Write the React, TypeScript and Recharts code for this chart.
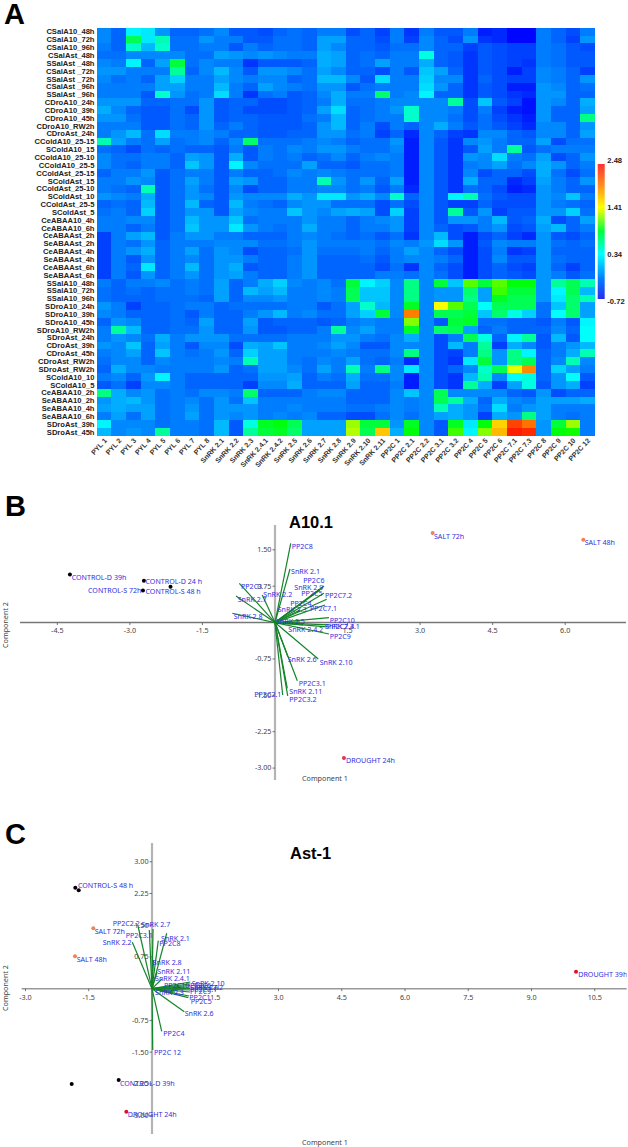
import React from 'react';
import { ScatterChart, Scatter, XAxis, YAxis, ReferenceLine, BarChart, Bar } from 'recharts';

const rowNames = ['CSalA10_48h','CSalA10_72h','CSalA10_96h','CSalAst_48h','SSalAst _48h','CSalAst _72h','SSalAst _72h','CSalAst _96h','SSalAst _96h','CDroA10_24h','CDroA10_39h','CDroA10_45h','CDroA10_RW2h','CDroAst_24h','CColdA10_25-15','SColdA10_15','CColdA10_25-10','CColdA10_25-5','CColdAst_25-15','SColdAst_15','CColdAst_25-10','SColdAst_10','CColdAst_25-5','SColdAst_5','CeABAA10_4h','CeABAA10_6h','CeABAAst_2h','SeABAAst_2h','CeABAAst_4h','SeABAAst_4h','CeABAAst_6h','SeABAAst_6h','SSalA10_48h','SSalA10_72h','SSalA10_96h','SDroA10_24h','SDroA10_39h','SDroA10_45h','SDroA10_RW2h','SDroAst_24h','CDroAst_39h','CDroAst_45h','CDroAst_RW2h','SDroAst_RW2h','SColdA10_10','SColdA10_5','CeABAA10_2h','SeABAA10_2h','SeABAA10_4h','SeABAA10_6h','SDroAst_39h','SDroAst_45h'];
const colNames = ['PYL 1','PYL 2','PYL 3','PYL 4','PYL 5','PYL 6','PYL 7','PYL 8','SnRK 2.1','SnRK 2.2','SnRK 2.3','SnRK 2.4.1','SnRK 2.4.2','SnRK 2.5','SnRK 2.6','SnRK 2.7','SnRK 2.8','SnRK 2.9','SnRK 2.10','SnRK 2.11','PP2C 1','PP2C 2.1','PP2C 2.2','PP2C 3.1','PP2C 3.2','PP2C 4','PP2C 5','PP2C 6','PP2C 7.1','PP2C 7.3','PP2C 8','PP2C 9','PP2C 10','PP2C 12'];

// columns PYL 1 .. SnRK 2.6
const heatLeft = [
[-.15,-.3,.3,.25,-.1,-.3,-.3,-.25,-.15,-.35,-.35,-.4,-.3,-.25,-.3],
[-.15,-.3,.7,.25,.5,-.25,-.25,-.1,-.2,-.2,-.35,-.35,-.25,-.25,-.3],
[-.2,-.3,.45,.05,.45,-.25,-.25,-.2,-.2,-.35,-.2,-.3,-.25,-.25,-.3],
[-.25,-.25,-.15,-.15,-.15,-.15,-.25,-.25,-.05,-.1,-.15,-.1,-.15,-.2,-.2],
[-.15,-.2,.3,-.3,-.05,.75,-.25,-.15,-.2,-.2,-.5,-.35,-.35,-.35,-.3],
[-.1,-.1,-.2,-.2,-.2,.55,-.3,-.15,.05,-.15,-.35,-.1,-.1,-.15,-.25],
[-.15,-.25,-.2,-.3,-.05,.15,-.2,-.2,-.05,-.15,-.2,-.15,-.15,-.3,-.25],
[-.2,-.2,-.2,-.2,-.05,-.05,-.2,-.2,.05,-.2,-.3,-.05,-.15,-.2,-.25],
[-.2,-.2,-.2,-.35,.45,-.1,-.25,-.2,.2,-.2,-.5,-.25,-.2,-.35,-.3],
[-.1,-.1,-.1,-.3,-.3,-.25,-.25,-.1,-.35,-.3,-.3,-.4,-.4,-.35,-.3],
[0,-.15,-.3,-.35,-.35,-.25,-.4,-.1,-.35,-.3,-.4,-.4,-.4,-.35,-.3],
[-.1,-.1,-.25,-.35,-.35,-.25,-.3,-.1,-.35,-.3,-.3,-.35,-.35,-.35,-.25],
[-.2,-.2,-.2,-.35,-.35,-.25,-.3,-.1,-.3,-.2,-.3,-.35,-.35,-.35,-.3],
[-.2,-.1,.05,-.25,.2,-.2,-.2,-.15,-.2,-.3,-.3,-.35,-.35,-.3,-.3],
[.5,-.05,-.2,-.25,-.05,-.25,-.2,-.15,-.3,-.15,.65,-.25,-.25,-.25,-.2],
[-.25,-.3,-.4,-.25,-.3,-.25,-.3,-.3,-.35,-.2,-.35,-.2,-.25,-.15,-.2],
[-.15,-.25,-.25,-.2,-.2,-.3,-.05,-.1,-.35,0,-.35,-.2,-.25,-.2,-.3],
[-.15,-.25,-.3,-.2,-.2,-.3,.1,-.1,-.35,.3,-.15,-.25,-.25,-.25,-.05],
[-.3,-.2,-.2,-.1,-.35,-.25,-.2,-.2,-.35,-.2,-.3,-.3,-.25,-.15,-.2],
[-.2,-.2,-.1,-.15,-.35,-.25,-.05,-.2,-.35,-.05,-.1,-.3,-.3,-.2,-.2],
[-.2,-.25,-.3,.5,-.35,-.25,-.1,-.25,-.35,-.15,-.4,-.3,-.3,-.2,-.2],
[-.1,-.15,-.2,0,-.35,-.25,-.1,-.15,-.35,-.1,-.15,-.15,-.15,0,-.1],
[-.3,-.25,-.3,.05,-.35,-.25,.05,-.3,-.35,.05,-.2,-.25,-.3,-.15,-.1],
[-.25,-.2,-.3,.15,-.35,-.25,-.1,-.1,-.35,-.05,-.15,-.2,-.2,.1,-.1],
[-.2,-.2,-.15,-.15,-.35,-.25,.05,-.1,-.1,.1,-.25,-.2,-.2,-.2,-.1],
[-.2,-.2,-.3,-.2,-.35,-.25,.1,-.1,-.1,.25,-.1,-.2,-.25,-.2,0],
[-.45,-.2,-.05,.05,-.35,-.2,-.1,-.1,-.2,-.2,-.3,-.3,-.3,-.2,-.15],
[-.45,-.2,-.25,-.1,-.3,-.2,-.2,-.2,-.15,-.15,-.15,-.25,-.25,-.2,-.1],
[-.45,-.2,-.1,0,-.3,-.2,-.05,-.25,-.1,-.15,-.4,-.3,-.3,-.25,-.1],
[-.45,-.2,-.35,-.1,-.3,-.2,-.15,-.25,-.1,-.1,-.2,-.3,-.3,-.2,-.1],
[-.45,-.2,-.3,.25,-.3,-.2,.05,-.25,-.1,0,-.35,-.3,-.3,-.2,-.1],
[-.45,-.2,-.35,-.1,-.3,-.2,-.1,-.25,-.1,-.05,-.2,-.3,-.3,-.2,-.1],
[-.2,-.3,-.2,-.2,-.15,-.25,-.2,-.25,-.05,-.3,-.2,0,.15,-.15,-.2],
[-.25,-.3,-.25,-.3,-.25,-.25,-.2,-.25,-.05,-.3,.05,-.05,.05,-.2,-.2],
[-.25,-.3,-.3,-.3,-.25,-.25,-.25,-.3,-.05,-.3,-.15,-.15,-.1,-.2,-.2],
[-.1,-.2,-.45,-.3,-.3,-.25,-.2,-.2,-.3,-.25,-.25,-.25,-.25,-.2,-.2],
[-.15,-.2,-.3,-.3,-.3,-.25,-.35,-.2,-.3,-.3,-.2,-.1,.05,-.2,-.15],
[-.3,-.1,-.15,-.3,-.3,-.25,-.3,-.05,-.3,-.3,-.05,-.35,-.3,-.3,-.3],
[-.2,.55,.05,-.3,-.3,-.25,-.25,-.1,-.3,-.3,-.1,-.35,-.35,-.3,-.3],
[-.2,-.1,-.15,-.25,0,-.2,-.1,-.1,-.1,-.25,-.25,-.25,-.25,-.2,-.2],
[-.1,-.15,.1,-.3,-.05,-.2,-.35,-.15,-.15,-.4,0,-.05,.1,-.2,-.2],
[-.2,-.15,-.05,-.3,.1,-.2,-.25,-.2,-.1,-.3,.15,-.05,-.05,-.2,-.2],
[-.25,-.15,-.15,-.3,-.15,-.2,-.2,-.2,-.15,-.2,.5,-.05,-.05,-.2,-.25],
[-.3,0,-.15,-.15,-.2,-.2,-.2,-.2,-.1,-.3,-.25,-.05,-.05,-.15,-.25],
[-.2,-.15,-.3,-.1,.3,-.2,-.3,-.3,-.3,-.3,-.3,-.1,-.1,-.05,-.3],
[-.35,-.25,-.45,-.15,-.15,-.2,-.3,-.3,-.3,-.3,-.45,-.15,-.15,0,-.3],
[.6,0,-.15,-.1,-.25,-.2,-.25,-.15,-.15,-.2,.65,-.3,-.3,-.3,-.2],
[-.1,0,.05,-.1,-.25,-.2,-.15,-.25,-.1,-.25,.1,-.2,-.2,-.2,-.2],
[-.05,0,-.05,-.05,-.25,-.2,-.1,-.25,-.1,-.1,-.1,-.2,-.2,-.15,-.2],
[-.2,-.05,-.25,-.05,-.25,-.2,-.05,-.25,-.1,-.15,-.1,-.2,-.15,-.2,-.15],
[.3,-.15,-.15,-.15,-.25,-.2,-.2,-.25,.05,-.35,.4,.8,.85,.7,-.05],
[.05,-.15,-.1,-.15,.55,-.2,-.2,-.25,.05,-.35,.55,.75,.8,.65,-.05],
];
// columns SnRK 2.7 .. PP2C 12
const heatRight = [
[-.2,-.2,-.4,-.3,-.45,-.2,-.5,-.2,-.35,-.35,-.2,-.6,-.55,-.7,-.7,-.2,-.3,-.4,-.2],
[-.05,-.05,-.3,-.3,-.4,-.2,-.45,-.15,-.3,-.4,-.1,-.5,-.55,-.7,-.7,-.2,-.3,-.45,-.1],
[-.05,-.15,-.3,-.3,-.35,-.25,-.25,-.15,-.3,-.3,-.45,-.35,-.4,-.45,-.45,-.2,-.25,-.35,-.4],
[0,-.05,-.3,-.25,-.3,-.2,-.2,.4,-.3,-.35,-.5,-.35,-.4,-.45,-.45,-.2,-.25,-.35,-.35],
[0,-.05,-.3,-.25,-.05,-.2,-.2,0,-.3,-.35,-.5,-.35,-.4,-.45,-.5,-.2,-.25,-.35,-.35],
[-.05,-.15,-.3,-.3,-.4,-.2,-.35,.1,-.05,-.3,-.5,-.35,-.4,-.6,-.45,-.15,-.2,-.3,-.45],
[.05,.05,-.15,-.35,.2,-.2,-.2,.15,-.15,-.15,-.5,-.3,-.4,-.45,-.45,-.15,-.2,-.3,-.1],
[-.1,-.1,-.35,-.25,-.2,-.2,-.2,.2,-.1,-.3,-.5,-.35,-.4,-.6,-.6,-.1,-.15,-.3,-.25],
[-.15,0,-.2,-.2,.65,-.2,-.15,.3,-.3,-.3,-.5,-.35,-.4,-.5,-.55,-.1,-.1,-.3,-.3],
[-.2,0,-.25,-.25,-.2,-.15,-.15,-.15,-.15,.55,-.4,.1,-.35,-.45,-.65,-.1,-.15,-.3,0],
[-.05,.2,-.3,-.25,-.2,-.1,.45,-.15,-.15,-.2,-.4,-.2,-.45,-.6,-.65,-.1,-.3,-.3,-.05],
[-.2,.05,-.3,-.25,-.2,-.2,.45,-.15,-.15,-.25,-.4,-.25,-.4,-.5,-.6,-.1,-.3,-.3,.6],
[-.1,.05,-.3,-.2,-.4,-.2,-.3,-.15,0,-.2,-.35,-.25,-.35,-.45,-.55,-.15,-.15,-.3,-.1],
[-.1,-.1,-.25,-.2,-.45,-.3,-.55,-.15,-.3,-.45,-.5,-.15,-.15,-.3,-.35,-.15,-.15,-.3,-.05],
[-.15,-.2,-.3,-.25,-.25,-.1,-.6,-.15,-.35,-.5,-.15,-.1,-.2,-.3,-.3,-.05,-.4,-.25,-.25],
[-.1,-.1,-.2,-.25,-.25,-.15,-.6,-.15,-.35,-.5,-.35,-.05,-.2,.55,-.35,-.25,-.2,-.2,-.2],
[-.25,-.15,-.3,-.2,-.15,-.2,-.6,-.15,-.35,-.5,-.1,-.15,.2,-.2,-.25,-.05,-.4,-.3,-.1],
[-.3,-.3,-.35,-.25,-.25,-.2,-.6,-.15,-.35,-.5,-.2,-.15,-.05,-.25,-.15,0,-.1,-.3,-.2],
[-.15,-.2,-.25,-.25,-.25,-.2,-.6,-.15,-.35,-.5,-.15,-.4,-.3,-.3,-.4,0,-.25,-.4,-.25],
[.5,-.1,-.25,-.1,-.3,-.05,-.6,-.15,-.35,-.5,0,-.3,-.3,-.55,-.45,-.05,-.2,-.3,-.1],
[-.15,-.15,-.25,-.2,-.35,-.2,-.55,-.15,-.35,-.5,-.25,-.3,-.4,-.6,-.55,-.1,-.2,-.3,-.3],
[.25,.25,-.1,0,-.15,.45,-.3,-.15,-.35,.3,.5,-.25,-.35,-.4,-.4,-.1,-.15,.1,-.2],
[-.1,-.25,-.25,-.25,-.4,-.25,-.4,-.15,-.35,-.45,-.45,-.3,-.4,-.4,-.4,-.1,-.2,-.25,-.3],
[-.15,-.05,0,-.05,-.4,.15,-.45,-.15,-.35,.55,-.35,-.1,-.45,-.35,-.35,-.1,-.1,.15,-.25],
[-.2,-.2,-.3,-.2,-.15,-.1,-.45,-.15,-.35,-.1,-.1,-.2,.05,-.35,-.3,0,-.4,-.3,-.05],
[-.2,-.2,-.3,-.2,-.2,-.1,-.45,-.15,-.3,-.4,-.35,-.2,-.1,-.4,-.35,-.05,.05,-.3,-.2],
[-.2,-.25,-.3,-.25,-.35,-.25,-.5,-.15,.05,-.4,-.6,-.4,-.3,-.45,-.55,-.1,-.35,-.4,-.3],
[-.2,-.2,-.2,-.2,-.25,-.15,-.2,-.1,.2,-.1,-.6,-.35,-.15,-.2,-.2,-.1,-.25,-.3,-.25],
[-.25,-.25,-.25,-.2,-.3,-.2,-.05,-.15,-.3,-.4,-.6,-.4,-.2,-.5,-.45,-.1,-.3,-.3,-.3],
[-.3,-.3,-.3,-.25,-.35,-.2,-.15,-.15,-.2,-.3,-.6,-.4,-.15,-.35,-.35,-.1,-.25,-.3,-.3],
[-.3,-.3,-.3,-.3,-.4,-.25,-.5,-.15,-.3,-.4,-.6,-.4,-.3,-.4,-.45,-.1,-.3,-.45,-.3],
[-.3,-.3,-.3,-.3,-.2,-.2,-.25,-.15,-.25,-.4,-.6,-.4,-.3,-.35,-.4,-.1,-.2,-.35,-.25],
[-.15,-.25,.75,.3,.15,-.15,.6,-.15,.75,.1,1.05,.75,1.05,.85,.85,-.1,.55,.7,.5],
[-.15,-.2,.7,.1,.1,-.15,.6,-.15,-.1,-.1,.65,-.05,1,.75,.75,-.1,.3,.7,.05],
[-.15,-.2,.7,.1,.1,-.15,.6,-.15,-.1,-.1,.6,-.05,.8,.7,.7,-.1,.25,.65,.5],
[-.35,-.25,-.05,.45,.05,-.15,.8,-.15,1.4,1.05,.7,.35,.7,.7,.7,-.25,.1,.65,-.05],
[-.25,-.25,-.05,.15,.75,-.15,1.95,-.15,.7,.7,.75,.1,.65,.4,.15,-.25,.35,.65,-.05],
[-.35,-.3,-.2,-.15,-.2,-.2,1.15,-.15,-.35,.75,.8,-.25,-.25,-.3,-.3,-.35,-.2,-.35,.3],
[-.2,.55,-.15,-.05,-.2,-.2,.8,-.15,.65,.7,-.05,-.3,-.2,-.3,-.3,-.3,-.15,-.3,.35],
[-.2,-.1,-.1,-.2,-.25,-.15,0,-.15,-.4,-.2,.7,.4,-.3,.3,.55,-.35,.05,-.35,.35],
[-.15,-.05,-.15,-.35,-.35,-.15,-.15,-.15,-.4,.05,-.2,.55,-.45,0,-.15,-.35,-.2,-.1,.05],
[-.2,-.15,-.2,-.25,-.25,-.15,.6,-.15,-.4,-.45,-.2,.6,-.1,.6,.3,-.3,-.2,0,.5],
[-.15,-.2,-.05,-.25,-.3,-.2,-.55,-.15,-.4,-.5,.25,.75,-.1,.6,.7,-.3,-.15,.5,-.15],
[-.05,-.2,.5,-.2,.6,-.15,.25,-.15,-.4,-.3,-.15,.45,.7,1.35,1.9,-.3,.15,-.05,-.2],
[-.2,-.25,0,-.25,-.25,-.15,-.6,-.15,-.4,-.5,.05,.5,-.15,.35,.4,-.3,-.1,.35,-.35],
[-.3,-.3,-.05,-.3,-.3,-.2,-.6,-.15,-.4,-.5,.55,0,-.45,-.05,.4,-.35,-.1,0,-.45],
[-.15,-.15,-.3,-.3,-.3,-.15,.1,-.15,.7,-.15,-.15,-.15,-.15,-.3,-.35,-.1,-.4,-.3,-.3],
[-.2,-.2,-.3,-.3,-.3,-.15,-.2,-.15,.7,.55,0,-.3,0,-.15,-.2,-.05,-.05,-.05,0],
[-.2,-.2,-.25,-.25,-.2,-.15,-.2,-.15,.5,0,-.1,-.25,.2,-.2,-.1,-.05,-.2,-.2,-.2],
[-.3,-.3,-.4,-.4,-.25,-.15,-.25,-.15,-.05,0,-.1,-.45,0,-.1,.6,-.05,-.2,-.25,-.2],
[-.05,-.05,1.2,.75,.75,-.1,.8,-.15,-.35,.8,.25,.85,1.6,2.2,2,-.1,.75,1.2,-.2],
[-.05,-.05,1.25,.7,1.65,0,.85,-.15,-.35,1,.3,1.15,1.7,2.35,2.3,-.1,.85,.9,-.2],
];
const colorTicks = [-0.72, 0.34, 1.41, 2.48];
const colorBarSpan = [-0.675, 2.39];

// Panel B
const bVecNames = ['PP2C8','SnRK 2.1','SnRK 2.2','PP2C3','SnRK 2.7','SnRK 2.8','PP2C6','SnRK 2.9','PP2C5','PP2C7.2','PP2C4','PP2C7.1','PP2C10','SnRK 2.4.1','PP2C7.3','SnRK 2.4.2','SnRK 2.5','SnRK 2.3','PP2C9','SnRK 2.10','SnRK 2.6','PP2C3.1','SnRK 2.11','PP2C3.2','PP2C2.1'];
const bVecX = [.325,.31,-.263,-.738,-.806,-.883,1.013,.986,.93,1.013,1.069,1.034,1.116,1.102,1.075,.579,.517,.517,1.116,.895,.269,.461,.254,.263,.159];
const bVecY = [1.635,1.105,.569,.81,.548,.192,.755,.728,.672,.604,.48,.363,.101,-.049,-.09,-.049,.012,.26,-.235,-.75,-.709,-1.198,-1.355,-1.513,-1.493];
const bLabX = [.345,.331,-.242,-.703,-.771,-.854,.585,.399,.544,1.034,.316,.724,1.131,1.034,1.075,.275,.02,.056,1.131,.924,.263,.49,.296,.296,-.428];
const bLabY = [1.565,1.043,.569,.734,.466,.115,.858,.713,.604,.563,.39,.287,.039,-.085,-.085,-.138,.012,.26,-.291,-.819,-.757,-1.26,-1.416,-1.59,-1.478];
const bSampleNames = ['CONTROL-D 39h','CONTROL-D 24 h','CONTROL-S 72h','CONTROL-S 48 h','SALT 72h','SALT 48h','DROUGHT 24h'];
const bSampleLabX = [-4.203,-2.677,-3.866,-2.677,3.287,6.403,1.468];
const bSampleLabY = [.92,.847,.652,.641,1.771,1.641,-2.854];
const bControl = [[-4.24,.99],[-2.71,.86],[-2.16,.74],[-2.73,.66]];
const bSalt = [[3.26,1.847],[6.374,1.709]];
const bDrought = [[1.426,-2.792]];
const bXTicks = [-4.5,-3,-1.5,1.5,3,4.5,6];
const bYTicks = [1.5,.75,-.75,-1.5,-2.25,-3];

// Panel C
const cVecNames = ['PP2C2.2','PP2C3.1','SnRK 2.7','SnRK 2.2','PP2C8','SnRK 2.1','SnRK 2.8','SnRK 2.11','SnRK 2.4.1','SnRK 2.10','PP2C10','PP2C6','PP2C7.2','SnRK 2.9','PP2C7.1','PP2C9','SnRK 2.3','PP2C1','PP2C5','SnRK 2.6','PP2C4','PP2C 12'];
const cVecX = [-.332,-.064,.024,-.467,.149,.349,.036,.119,.237,.908,.901,.901,.901,.901,.901,.901,.545,.877,.861,.766,.23,.017];
const cVecY = [1.482,1.388,1.411,1.097,1.135,1.31,.678,.395,.229,.158,.111,.076,.04,.005,-.031,-.078,-.078,-.173,-.213,-.544,-1.007,-1.449];
const cLabX = [-.932,-.624,-.254,-1.169,.173,.213,.017,.126,.071,.941,.285,.901,1.043,.901,.901,.901,.071,.885,.918,.775,.268,.047];
const cLabY = [1.53,1.246,1.506,1.08,1.064,1.182,.615,.395,.236,.128,.064,.064,.017,.017,-.031,-.078,-.085,-.213,-.298,-.591,-1.071,-1.52];
const cSampleNames = ['CONTROL-S 48 h','SALT 72h','SALT 48h','CONTROL-D 39h','DROUGHT 24h','DROUGHT 39h'];
const cSampleLabX = [-1.755,-1.359,-1.786,-.759,-.576,10.109];
const cSampleLabY = [2.428,1.348,.695,-2.246,-2.986,.324];
const cControl = [[-1.819,2.388],[-1.738,2.326],[-1.904,-2.253],[-.79,-2.158]];
const cSalt = [[-1.392,1.428],[-1.826,.766]];
const cDrought = [[-.609,-2.908],[10.055,.402]];
const cXTicks = [-3,-1.5,1.5,3,4.5,6,7.5,9,10.5];
const cYTicks = [3,2.25,1.5,.75,-.75,-1.5,-2.25,-3];

const ARIAL = '"Liberation Sans", Arial, sans-serif';
const PAST = '"Noto Sans", sans-serif';

const lerp = (a: number, b: number, t: number) => Math.round(a + (b - a) * t);
const stops: [number, number, number, number][] = [
  [-0.72, 0, 0, 255], [0.34, 0, 255, 255], [0.87, 0, 255, 0], [1.41, 255, 255, 0], [2.48, 255, 0, 0],
];
function heatColor(v: number) {
  for (let i = 1; i < stops.length; i++) {
    if (v <= stops[i][0]) {
      const a = stops[i - 1], b = stops[i];
      const t = Math.max(0, (v - a[0]) / (b[0] - a[0]));
      return `rgb(${lerp(a[1], b[1], t)},${lerp(a[2], b[2], t)},${lerp(a[3], b[3], t)})`;
    }
  }
  return 'rgb(255,0,0)';
}

const heatCells = rowNames.flatMap((_, r) =>
  [...heatLeft[r], ...heatRight[r]].map((v, c) => ({ x: c + 0.5, y: r + 0.5, v })),
);
const xCenters = colNames.map((_, i) => i + 0.5);
const yCenters = rowNames.map((_, i) => i + 0.5);
const CELL_W = 498 / 34 + 0.4;
const CELL_H = 408 / 52 + 0.4;

const HeatCell = (p: any) => (
  <rect x={p.cx - CELL_W / 2} y={p.cy - CELL_H / 2} width={CELL_W} height={CELL_H} fill={heatColor(p.payload.v)} shapeRendering="crispEdges" />
);
const RowTick = (p: any) => (
  <text x={p.x - 2.5} y={p.y} dy="0.33em" textAnchor="end" fontFamily={ARIAL} fontWeight="bold" fontSize={7.6} fill="#222">
    {rowNames[Math.floor(p.payload.value)]}
  </text>
);
const ColTick = (p: any) => (
  <text transform={`translate(${p.x + 3},${p.y + 5}) rotate(-47)`} textAnchor="end" fontFamily={ARIAL} fontWeight="bold" fontSize={7} fill="#333">
    {colNames[Math.floor(p.payload.value)]}
  </text>
);

function Heatmap() {
  return (
    <ScatterChart width={600} height={480} margin={{ top: 28, right: 5, bottom: 0, left: 0 }} style={{ position: 'absolute', left: 0, top: 0 }}>
      <XAxis type="number" dataKey="x" domain={[0, 34]} ticks={xCenters} interval={0} height={44} axisLine={false} tickLine={false} tickSize={0} tickMargin={0} tick={ColTick} />
      <YAxis type="number" dataKey="y" domain={[0, 52]} reversed ticks={yCenters} interval={0} width={97} axisLine={false} tickLine={false} tickSize={0} tickMargin={0} tick={RowTick} />
      <Scatter data={heatCells} shape={HeatCell} isAnimationActive={false} />
    </ScatterChart>
  );
}

function ColorBar() {
  const data = [{ name: 'scale', span: colorBarSpan }];
  return (
    <BarChart width={38} height={160} data={data} barCategoryGap={0} margin={{ top: 10, right: 0, bottom: 9, left: 7.7 }} style={{ position: 'absolute', left: 590, top: 150 }}>
      <defs>
        <linearGradient id="scaleGrad" x1="0" y1="0" x2="0" y2="1">
          <stop offset="0" stopColor="#ff3030" />
          <stop offset="0.16" stopColor="#ff9020" />
          <stop offset="0.32" stopColor="#ffff00" />
          <stop offset="0.5" stopColor="#00ff40" />
          <stop offset="0.667" stopColor="#00ffff" />
          <stop offset="0.85" stopColor="#0080ff" />
          <stop offset="1" stopColor="#2a2aee" />
        </linearGradient>
      </defs>
      <XAxis dataKey="name" hide />
      <YAxis type="number" orientation="right" domain={[-0.72, 2.48]} ticks={colorTicks} interval={0} width={23.7} axisLine={false} tickLine={false} tickSize={0} tickMargin={3}
        tickFormatter={(v: number) => v.toFixed(2)} tick={{ fontFamily: ARIAL, fontWeight: 'bold', fontSize: 7.6, fill: '#222' }} />
      <Bar dataKey="span" fill="url(#scaleGrad)" isAnimationActive={false} />
    </BarChart>
  );
}

const pts = (arr: number[][]) => arr.map(([x, y]) => ({ x, y }));
const labs = (names: string[], xs: number[], ys: number[]) => names.map((name, i) => ({ x: xs[i], y: ys[i], name }));
const Dot = (p: any) => <circle cx={p.cx} cy={p.cy} r={2} fill={p.fill} />;
const Lab = (p: any) => (
  <text x={p.cx} y={p.cy} dy="0.35em" fontFamily={PAST} fontSize={7.1} fill="#3030e0">{p.payload.name}</text>
);

type BiplotProps = {
  plot: [number, number, number, number];
  xDomain: [number, number]; yDomain: [number, number];
  xTicks: number[]; yTicks: number[];
  vecX: number[]; vecY: number[];
  labels: { x: number; y: number; name: string }[];
  control: number[][]; salt: number[][]; drought: number[][];
  droughtColor: string; hColor: string;
};

function Biplot({ plot, xDomain, yDomain, xTicks, yTicks, vecX, vecY, labels, control, salt, drought, droughtColor, hColor }: BiplotProps) {
  const [px, py, pw, ph] = plot;
  const zeroX = px + (pw * -xDomain[0]) / (xDomain[1] - xDomain[0]);
  const zeroY = py + (ph * yDomain[1]) / (yDomain[1] - yDomain[0]);
  const XT = (p: any) => (
    <g>
      <line x1={p.x} x2={p.x} y1={zeroY} y2={zeroY + 2.5} stroke="#555" strokeWidth={0.8} />
      <text x={p.x} y={zeroY + 8.5} dy="0.33em" textAnchor="middle" fontFamily={PAST} fontSize={7.2} fill="#444">{p.payload.value.toFixed(1)}</text>
    </g>
  );
  const YT = (p: any) => (
    <g>
      <line x1={zeroX - 2.5} x2={zeroX} y1={p.y} y2={p.y} stroke="#555" strokeWidth={0.8} />
      <text x={zeroX - 3.5} y={p.y} dy="0.33em" textAnchor="end" fontFamily={PAST} fontSize={7.2} fill="#444">{p.payload.value.toFixed(2)}</text>
    </g>
  );
  return (
    <ScatterChart width={628} height={py + ph + 3} margin={{ top: py, left: px - 1, right: 628 - px - pw, bottom: 2 }} style={{ position: 'absolute', left: 0, top: 0 }}>
      <XAxis type="number" dataKey="x" domain={xDomain} allowDataOverflow ticks={xTicks} interval={0} height={1} axisLine={false} tickLine={false} tick={XT} />
      <YAxis type="number" dataKey="y" domain={yDomain} allowDataOverflow ticks={yTicks} interval={0} width={1} axisLine={false} tickLine={false} tick={YT} />
      <ReferenceLine y={0} stroke={hColor} strokeWidth={1.5} />
      <ReferenceLine x={0} stroke="#b4b4b4" strokeWidth={2.2} />
      {vecX.map((x, i) => (
        <ReferenceLine key={i} segment={[{ x: 0, y: 0 }, { x, y: vecY[i] }]} stroke="#15842a" strokeWidth={1.2} />
      ))}
      <Scatter data={pts(control)} fill="#000000" shape={Dot} isAnimationActive={false} />
      <Scatter data={pts(salt)} fill="#f08258" shape={Dot} isAnimationActive={false} />
      <Scatter data={pts(drought)} fill={droughtColor} shape={Dot} isAnimationActive={false} />
      <Scatter data={labels} shape={Lab} isAnimationActive={false} />
    </ScatterChart>
  );
}

const panelLetters = [['A', 4, 23.5], ['B', 5, 516], ['C', 5, 844]] as const;
const titles = [['A10.1', 289, 528], ['Ast-1', 290, 859]] as const;
const axisTitles = [['Component 1', 302, 781], ['Component 1', 302, 1144.5]] as const;
const sideTitles = [['Component 2', 8, 625], ['Component 2', 8, 988]] as const;

export default function App() {
  return (
    <div style={{ position: 'absolute', left: 0, top: 0, width: 628, height: 1147, overflow: 'hidden', background: '#fff' }}>
      <Heatmap />
      <ColorBar />
      <Biplot plot={[20, 525, 606, 255]} xDomain={[-5.272, 7.257]} yDomain={[-3.246, 2.012]}
        xTicks={bXTicks} yTicks={bYTicks} vecX={bVecX} vecY={bVecY}
        labels={[...labs(bVecNames, bLabX, bLabY), ...labs(bSampleNames, bSampleLabX, bSampleLabY)]}
        control={bControl} salt={bSalt} drought={bDrought} droughtColor="#e8304a" hColor="#777777" />
      <Biplot plot={[21.7, 843, 605, 291]} xDomain={[-3.09, 11.257]} yDomain={[-3.435, 3.444]}
        xTicks={cXTicks} yTicks={cYTicks} vecX={cVecX} vecY={cVecY}
        labels={[...labs(cVecNames, cLabX, cLabY), ...labs(cSampleNames, cSampleLabX, cSampleLabY)]}
        control={cControl} salt={cSalt} drought={cDrought} droughtColor="#e0102a" hColor="#999999" />
      <svg width={628} height={1147} style={{ position: 'absolute', left: 0, top: 0, pointerEvents: 'none' }}>
        {panelLetters.map(([t, x, y]) => (
          <text key={t} x={x} y={y} fontFamily={ARIAL} fontWeight="bold" fontSize={29} fill="#000">{t}</text>
        ))}
        {titles.map(([t, x, y]) => (
          <text key={t} x={x} y={y} fontFamily={ARIAL} fontWeight="bold" fontSize={16.5} fill="#000">{t}</text>
        ))}
        {axisTitles.map(([t, x, y], i) => (
          <text key={i} x={x} y={y} fontFamily={PAST} fontSize={7.2} fill="#444">{t}</text>
        ))}
        {sideTitles.map(([t, x, y], i) => (
          <text key={i} transform={`translate(${x},${y}) rotate(-90)`} textAnchor="middle" fontFamily={PAST} fontSize={7.2} fill="#444">{t}</text>
        ))}
      </svg>
    </div>
  );
}
